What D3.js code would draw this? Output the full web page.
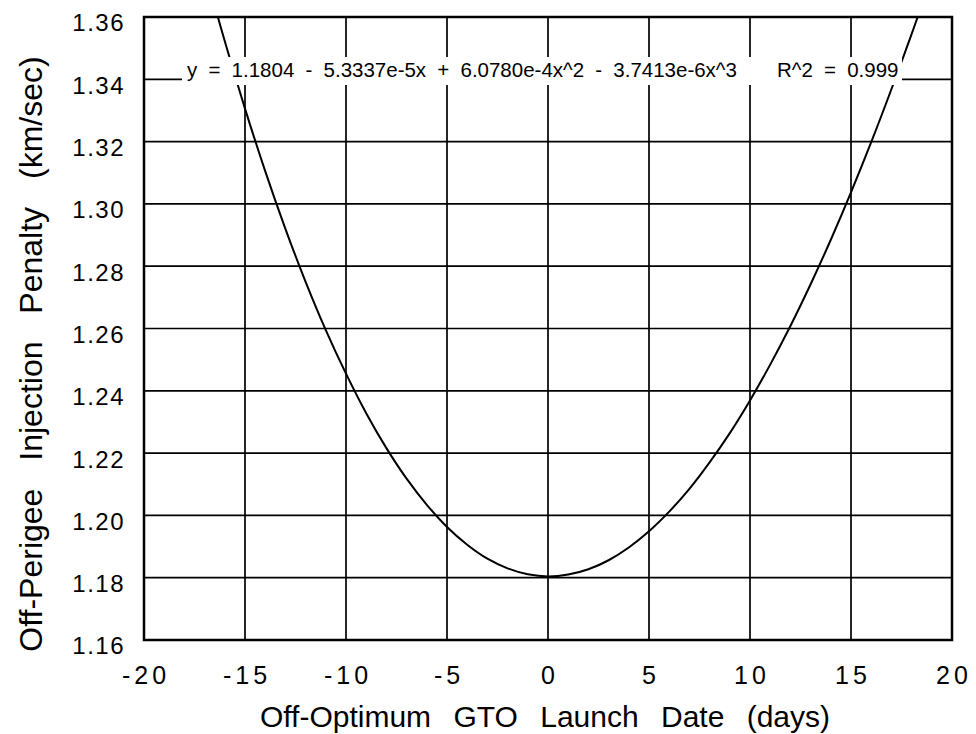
<!DOCTYPE html>
<html>
<head>
<meta charset="utf-8">
<script src="https://cdn.jsdelivr.net/npm/d3@7"></script>
<style>
  html, body { margin: 0; padding: 0; background: #fff; }
  svg { display: block; font-family: "Liberation Sans", Arial, Helvetica, sans-serif; }
</style>
</head>
<body>
<svg id="chart" width="976" height="734"></svg>
<script>
// ---- data ----
const xTicks = [-20, -15, -10, -5, 0, 5, 10, 15, 20];
const yTicks = [1.16, 1.18, 1.20, 1.22, 1.24, 1.26, 1.28, 1.30, 1.32, 1.34, 1.36];
const yTickLabels = ["1.16", "1.18", "1.20", "1.22", "1.24", "1.26", "1.28", "1.30", "1.32", "1.34", "1.36"];
const xTickLabels = ["-20", "-15", "-10", "-5", "0", "5", "10", "15", "20"];
const curveX = [-16.5, -16, -15, -14, -13, -12, -11, -10, -9, -8, -7, -6, -5, -4, -3, -2, -1,
                0, 1, 2, 3, 4, 5, 6, 7, 8, 9, 10, 11, 12, 13, 14, 15, 16, 17, 18, 18.5];
const curveY = [1.3636, 1.3522, 1.3306, 1.3105, 1.2920, 1.2750, 1.2595, 1.2455, 1.2328, 1.2216,
                1.2118, 1.2034, 1.1963, 1.1906, 1.1861, 1.1830, 1.1811, 1.1804, 1.1810, 1.1827,
                1.1856, 1.1897, 1.1949, 1.2012, 1.2085, 1.2170, 1.2264, 1.2369, 1.2484, 1.2608,
                1.2742, 1.2885, 1.3037, 1.3198, 1.3368, 1.3545, 1.3637];
const equationText = "y = 1.1804 - 5.3337e-5x + 6.0780e-4x^2 - 3.7413e-6x^3";
const r2Text = "R^2 = 0.999";
const xTitle = "Off-Optimum GTO Launch Date (days)";
const yTitle = "Off-Perigee Injection Penalty (km/sec)";

// ---- layout ----
const L = 144, R = 952, T = 17, B = 640;
const svg = d3.select("#chart");
const x = d3.scaleLinear().domain([-20, 20]).range([L, R]);
const y = d3.scaleLinear().domain([1.16, 1.36]).range([B, T]);

// grid lines
const g = svg.append("g");
g.selectAll("line.v").data(xTicks.slice(1, -1)).join("line")
  .attr("x1", d => x(d)).attr("x2", d => x(d)).attr("y1", T).attr("y2", B)
  .attr("stroke", "#000").attr("stroke-width", 1.7);
g.selectAll("line.h").data(yTicks.slice(1, -1)).join("line")
  .attr("y1", d => y(d)).attr("y2", d => y(d)).attr("x1", L).attr("x2", R)
  .attr("stroke", "#000").attr("stroke-width", 1.7);

// curve
svg.append("clipPath").attr("id", "clip").append("rect")
  .attr("x", L).attr("y", T).attr("width", R - L).attr("height", B - T);
const pts = curveX.map((d, i) => [d, curveY[i]]);
svg.append("path").datum(pts)
  .attr("clip-path", "url(#clip)")
  .attr("fill", "none").attr("stroke", "#000").attr("stroke-width", 2)
  .attr("d", d3.line().x(d => x(d[0])).y(d => y(d[1])).curve(d3.curveCatmullRom));

// equation label with white background
svg.append("rect").attr("x", 182).attr("y", 57).attr("width", 720).attr("height", 28).attr("fill", "#fff");
svg.append("text").attr("x", 187).attr("y", 77)
  .attr("font-size", 20.5).attr("word-spacing", 5.5)
  .text(equationText);
svg.append("text").attr("x", 777).attr("y", 77)
  .attr("font-size", 20.5).attr("word-spacing", 5.5)
  .text(r2Text);

// frame
svg.append("rect").attr("x", L).attr("y", T).attr("width", R - L).attr("height", B - T)
  .attr("fill", "none").attr("stroke", "#000").attr("stroke-width", 2.5);

// y tick labels
svg.append("g").selectAll("text").data(yTicks).join("text")
  .attr("x", 125).attr("y", d => y(d) + 6).attr("dy", "0.35em")
  .attr("text-anchor", "end").attr("font-size", 24).attr("letter-spacing", 1.5)
  .text((d, i) => yTickLabels[i]);

// x tick labels
svg.append("g").selectAll("text").data(xTicks).join("text")
  .attr("x", d => x(d) + 2).attr("y", 684)
  .attr("text-anchor", "middle").attr("font-size", 25).attr("letter-spacing", 4)
  .text((d, i) => xTickLabels[i]);

// axis titles
svg.append("text").attr("x", 545).attr("y", 727).attr("text-anchor", "middle")
  .attr("font-size", 30).attr("word-spacing", 14).text(xTitle);
svg.append("text").attr("transform", "translate(42,354) rotate(-90)").attr("text-anchor", "middle")
  .attr("font-size", 32).attr("word-spacing", 19).text(yTitle);
</script>
</body>
</html>
